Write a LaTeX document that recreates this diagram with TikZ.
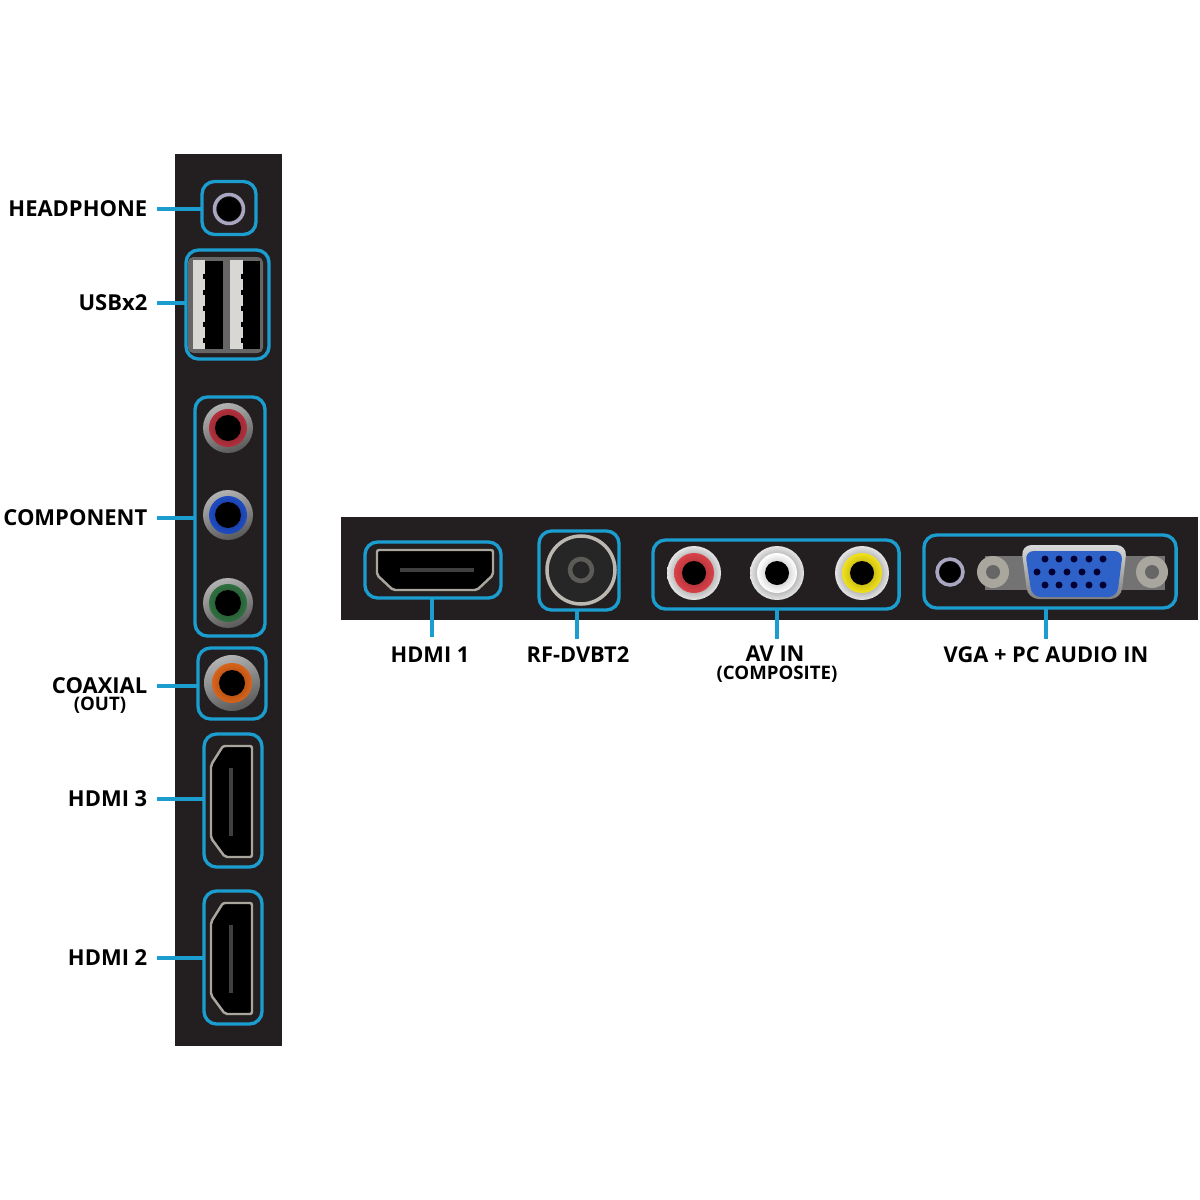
\documentclass[tikz,border=0pt]{standalone}
\usepackage{fontspec}
\setmainfont{Open Sans}
\definecolor{PanelDark}{HTML}{231F20}
\definecolor{LeaderBlue}{HTML}{1B9DD0}
\definecolor{PortSilver}{HTML}{A9A69E}
\definecolor{JackTint}{HTML}{A8A6C0}
\definecolor{VgaBlue}{HTML}{2F62C8}
\definecolor{JackRed}{HTML}{B2303C}
\definecolor{JackBlue}{HTML}{1F4CC4}
\definecolor{JackGreen}{HTML}{2F7040}
\definecolor{JackOrange}{HTML}{D9631A}
\definecolor{JackBright}{HTML}{DB4148}
\definecolor{JackYellow}{HTML}{F2E21A}

\tikzset{
    portbox/.style={draw=LeaderBlue, line width=0.95pt, rounded corners=3.6pt, outer sep=0pt, inner sep=0pt},
    leader/.style={LeaderBlue, line width=0.95pt},
    sidelabel/.style={anchor=east, inner sep=0pt, inner xsep=0.09cm, font=\bfseries\fontsize{6.25}{7}\selectfont},
    toplabel/.style={inner sep=0pt, font=\bfseries\fontsize{6.2}{7}\selectfont},
    sublabel/.style={inner sep=0pt, font=\bfseries\fontsize{5.3}{6}\selectfont},
    darkmetal/.style={left color=white!70!black, right color=black!65, shading angle=20},
    brightmetal/.style={inner color=black!70, outer color=white!90!black},
}

% jack: metal style, centre, ring colour, outer radius, ring radius, hole radius
\newcommand{\rcajack}[6]{%
    \shade[#1] #2 circle (#4);
    \shade[inner color=#3!65!black, outer color=#3] #2 circle (#5);
    \fill[black] #2 circle (#6);
}

\begin{document}
\begin{tikzpicture}[x=0.01cm, y=-0.01cm]
    \useasboundingbox (0,0) rectangle (1200,1200);
    \fill[white] (0,0) rectangle (1200,1200);

    % =========================================
    % 1. Panels
    % =========================================
    \fill[PanelDark] (175,154) rectangle (282,1046);
    \fill[PanelDark] (341,517) rectangle (1198,620);

    % =========================================
    % 2. Left panel ports
    % =========================================
    % headphone
    \draw[JackTint, line width=1pt] (229,209) circle (14.5);
    \fill[black] (229,209) circle (12);

    % usb x2
    \fill[black!60, rounded corners=1.5pt] (188,257) rectangle (263,353);
    \fill[black] (205,261) rectangle (223,349);
    \fill[black] (243,261) rectangle (260,349);
    \fill[white!55!PortSilver] (193,260) rectangle (205,349);
    \fill[white!55!PortSilver] (230,260) rectangle (243,349);
    \foreach \y in {274,290,...,338} {
        \fill[black] (203,\y) rectangle (206,\y+5);
        \fill[black] (241,\y) rectangle (244,\y+5);
    }

    % component + coaxial
    \rcajack{darkmetal}{(228,428)}{JackRed}{25}{19}{13}
    \rcajack{darkmetal}{(228,515)}{JackBlue}{25}{19}{13}
    \rcajack{darkmetal}{(228,603)}{JackGreen}{25}{19}{13}
    \rcajack{darkmetal}{(232,683)}{JackOrange}{28}{20}{13}

    % hdmi 3 and hdmi 2
    \foreach \cy in {801,958} {
        \begin{scope}[yshift=-\cy*0.01cm]
            \draw[PortSilver, fill=black, line width=0.7pt, rounded corners=0.6pt]
                (223,-55) -- (252,-55) -- (252,56) -- (225,56) -- (211,37) -- (211,-36) -- cycle;
            \draw[black!75, line width=1pt] (231,-33) -- (231,35);
        \end{scope}
    }

    % =========================================
    % 3. Right panel ports
    % =========================================
    % hdmi 1
    \draw[PortSilver, fill=black, line width=0.7pt, rounded corners=0.6pt]
        (377,550) -- (493,550) -- (493,575) -- (477,590) -- (393,590) -- (377,575) -- cycle;
    \draw[black!75, line width=1pt] (400,570) -- (474,570);

    % rf
    \fill[black!85] (581,570) circle (34);
    \draw[PortSilver!80!white, line width=1pt] (581,570) circle (34);
    \draw[PortSilver!55!black, line width=1.3pt] (581,570) circle (11);

    % av in
    \rcajack{brightmetal}{(694,573)}{JackBright}{27}{20}{12}
    \rcajack{brightmetal}{(777,573)}{white}{27}{20}{12}
    \rcajack{brightmetal}{(862,573)}{JackYellow}{27}{20}{12}

    % vga + pc audio
    \draw[JackTint, line width=1pt] (950,572) circle (13);
    \fill[black] (950,572) circle (10.5);
    \fill[black!55] (985,556) rectangle (1165,590);
    \fill[PortSilver] (993,572) circle (16);
    \fill[black!60] (993,572) circle (7);
    \fill[PortSilver] (1152,572) circle (16);
    \fill[black!60] (1152,572) circle (7);
    \shade[top color=white!85!black, bottom color=black!50, rounded corners=3pt]
        (1021,545) -- (1127,545) -- (1121,599) -- (1028,599) -- cycle;
    \fill[VgaBlue, rounded corners=2.5pt] (1025,551) -- (1123,551) -- (1117,597) -- (1032,597) -- cycle;
    \foreach \x in {1045,1059,1074,1089,1103} {
        \fill[black!80!blue] (\x,559) circle (3.5);
        \fill[black!80!blue] (\x,585) circle (3.5);
    }
    \foreach \x in {1037,1052,1067,1082,1097} {
        \fill[black!80!blue] (\x,572) circle (3.5);
    }

    % =========================================
    % 4. Port frames
    % =========================================
    \node[portbox, minimum width=0.54cm, minimum height=0.53cm] (boxHeadphone) at (229,208) {};
    \node[portbox, minimum width=0.83cm, minimum height=1.09cm] (boxUsb) at (227.5,304.5) {};
    \node[portbox, minimum width=0.70cm, minimum height=2.39cm] (boxComponent) at (230,516.5) {};
    \node[portbox, minimum width=0.68cm, minimum height=0.71cm] (boxCoaxial) at (232,683.5) {};
    \node[portbox, minimum width=0.58cm, minimum height=1.33cm] (boxHdmiThree) at (233,800.5) {};
    \node[portbox, minimum width=0.58cm, minimum height=1.33cm] (boxHdmiTwo) at (233,957.5) {};

    \node[portbox, minimum width=1.36cm, minimum height=0.56cm] (boxHdmiOne) at (433,570) {};
    \node[portbox, minimum width=0.80cm, minimum height=0.79cm] (boxRf) at (579,570.5) {};
    \node[portbox, minimum width=2.46cm, minimum height=0.69cm] (boxAv) at (776,574.5) {};
    \node[portbox, minimum width=2.52cm, minimum height=0.73cm] (boxVga) at (1050,571.5) {};

    % =========================================
    % 5. Labels and leaders
    % =========================================
    \node[sidelabel] (lblHeadphone) at (157,209) {HEADPHONE};
    \node[sidelabel] (lblUsb) at (157,303) {USBx2};
    \node[sidelabel] (lblComponent) at (157,518) {COMPONENT};
    \node[sidelabel] (lblCoaxial) at (157,686) {COAXIAL};
    \node[sublabel] (lblOut) at (100,705) {(OUT)};
    \node[sidelabel] (lblHdmiThree) at (157,799) {HDMI 3};
    \node[sidelabel] (lblHdmiTwo) at (157,958) {HDMI 2};

    \node[toplabel] (lblHdmiOne) at (430,655) {HDMI 1};
    \node[toplabel] (lblRf) at (578,655) {RF-DVBT2};
    \node[toplabel] (lblAv) at (775,654) {AV IN};
    \node[sublabel] (lblComposite) at (777,674) {(COMPOSITE)};
    \node[toplabel] (lblVga) at (1046,655) {VGA + PC AUDIO IN};

    \foreach \lbl/\port in {lblHeadphone/boxHeadphone, lblUsb/boxUsb, lblComponent/boxComponent,
        lblCoaxial/boxCoaxial, lblHdmiThree/boxHdmiThree, lblHdmiTwo/boxHdmiTwo} {
        \draw[leader] (\lbl.east) -- (\lbl.east -| \port.west);
    }

    \coordinate (endHdmiOne) at (432,637);
    \coordinate (endRf) at (577,639);
    \coordinate (endAv) at (777,639);
    \coordinate (endVga) at (1046,639);
    \foreach \stub/\port in {endHdmiOne/boxHdmiOne, endRf/boxRf, endAv/boxAv, endVga/boxVga} {
        \draw[leader] (\stub) -- (\stub |- \port.south);
    }

\end{tikzpicture}
\end{document}
